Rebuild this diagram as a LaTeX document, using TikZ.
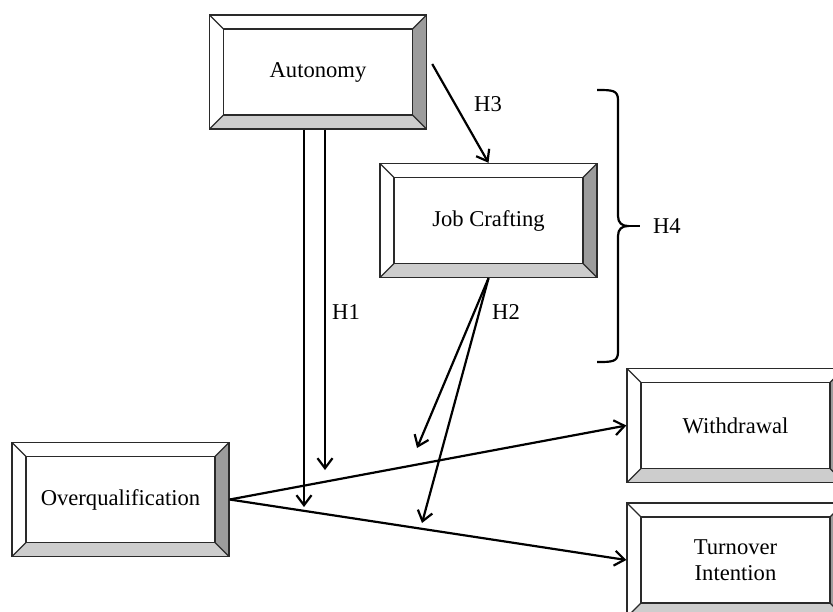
\documentclass[tikz,border=0pt]{standalone}
\usepackage{fontspec}
\setmainfont{Liberation Serif}
\usetikzlibrary{arrows.meta,positioning}
\definecolor{edge}{HTML}{2A2A2A}
\definecolor{bevdark}{HTML}{9C9C9C}
\definecolor{bevlight}{HTML}{CDCDCD}
\newcommand{\boxfont}{\fontsize{11.3}{13.2}\selectfont}

\tikzset{
    bevelbox/.style={draw=edge, line width=0.7pt, fill=white, inner sep=0pt,
        minimum width=108.5pt, minimum height=57pt, align=center, font=\boxfont,
        path picture={
            \fill[bevdark] (path picture bounding box.north east) -- ++(-7pt,-7pt)
                -- ([shift={(-7pt,7pt)}]path picture bounding box.south east)
                -- (path picture bounding box.south east) -- cycle;
            \fill[bevlight] (path picture bounding box.south west) -- ++(7pt,7pt)
                -- ([shift={(-7pt,7pt)}]path picture bounding box.south east)
                -- (path picture bounding box.south east) -- cycle;
            \draw[edge, line width=0.7pt]
                ([shift={(7pt,-7pt)}]path picture bounding box.north west) rectangle
                ([shift={(-7pt,7pt)}]path picture bounding box.south east);
            \draw[edge, line width=0.6pt]
                (path picture bounding box.north west) -- ++(7pt,-7pt)
                (path picture bounding box.north east) -- ++(-7pt,-7pt)
                (path picture bounding box.south west) -- ++(7pt,7pt)
                (path picture bounding box.south east) -- ++(-7pt,7pt);
        }},
    hyp/.style={font=\boxfont},
    link/.style={->, line width=1.1pt}
}

\begin{document}
\begin{tikzpicture}[
            x=0.5pt, y=-0.5pt,
            >={Straight Barb[length=5pt,width=7.5pt]}
        ]
        \useasboundingbox (0,0) rectangle (833,611);

        % Draw boxes %
        \node[bevelbox] (auto) at (318,72) {Autonomy};
        \node[bevelbox] (craft) at (488.5,220.5) {Job Crafting};
        \node[bevelbox] (overq) at (120.5,499.5) {Overqualification};
        \node[bevelbox] (withd) at (735.5,425.5) {Withdrawal};
        \node[bevelbox] (turn) at (735.5,560) {Turnover\\Intention};

        % Moderation points %
        \coordinate (m1) at (304,507);
        \coordinate (m2) at (325,470);
        \coordinate (n1) at (417,448);
        \coordinate (n2) at (422,523);

        % Draw arrows %
        \draw[link] (overq.east) -- (withd.west);
        \draw[link] (overq.east) -- (turn.west);
        \draw[link] (auto.south -| m1) -- (m1);
        \draw[link] (auto.south -| m2) -- (m2);
        \draw[link] ([shift={(2.5pt,4pt)}]auto.east) -- (craft.north);
        \draw[link] (craft.south) -- (n1);
        \draw[link] (craft.south) -- (n2);

        % Labels %
        \node[hyp] (h1) at (346,312) {H1};
        \node[hyp] (h2) at (506,312) {H2};
        \node[hyp] (h3) at (488,104) {H3};

        % Brace %
        \coordinate (tip) at (640,226);
        \draw[line width=1.1pt]
            (597,90) .. controls (612,90) and (618,90) .. (618,100)
            -- (618,216) .. controls (618,223) and (622,226) .. (628,226)
            .. controls (622,226) and (618,229) .. (618,236)
            -- (618,352) .. controls (618,362) and (612,362) .. (597,362);
        \draw[line width=1.1pt] (627,226) -- (tip);
        \node[hyp, anchor=west] (h4) at ([xshift=3pt]tip) {H4};
\end{tikzpicture}
\end{document}
